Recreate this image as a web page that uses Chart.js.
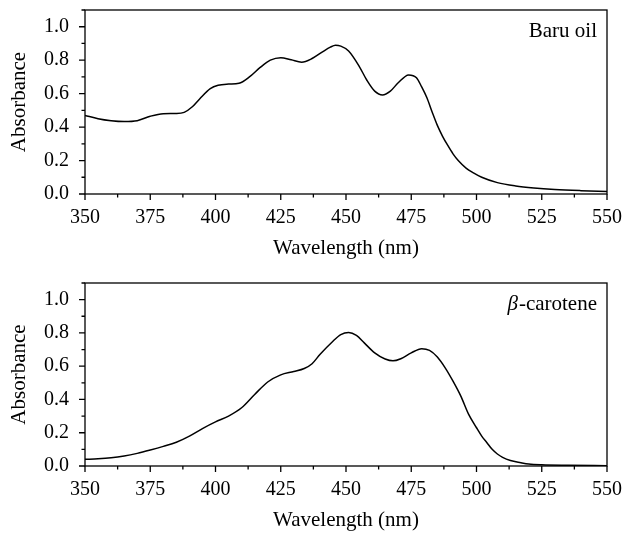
<!DOCTYPE html>
<html><head><meta charset="utf-8">
<script src="https://cdn.jsdelivr.net/npm/chart.js@4.4.1/dist/chart.umd.min.js"></script>
<style>html,body{margin:0;padding:0;background:#fff;} canvas{display:block;}</style>
</head><body>
<canvas id="topChart" width="623" height="270"></canvas>
<canvas id="bottomChart" width="623" height="263"></canvas>
<script>
// ---- data ----
const xTickValues = [350, 375, 400, 425, 450, 475, 500, 525, 550];
const yTickValues = [0.0, 0.2, 0.4, 0.6, 0.8, 1.0];
const xLabel = 'Wavelength (nm)';
const yLabel = 'Absorbance';
const topPanelLabel = 'Baru oil';
const bottomPanelLabel = ['β', '-carotene'];

const baruWavelength = [350,355,360,365,370,375,380,385,388,391,394,398,401,405,409,413,417,421,425,429,433,437,441,444,446,448,451,455,458,461,464,467,470,474,477,479,481,483,485,487,489,491,493,496,499,502,508,515,522,530,540,550];
const baruAbsorbance = [0.470,0.450,0.438,0.433,0.438,0.465,0.480,0.481,0.488,0.520,0.570,0.630,0.650,0.657,0.662,0.700,0.755,0.800,0.815,0.802,0.788,0.810,0.850,0.878,0.889,0.884,0.855,0.765,0.680,0.615,0.592,0.615,0.665,0.712,0.695,0.640,0.575,0.490,0.410,0.345,0.290,0.240,0.200,0.155,0.125,0.100,0.068,0.048,0.036,0.027,0.020,0.015];

const caroteneWavelength = [350,355,360,365,370,375,380,385,390,395,400,405,410,415,420,425,430,434,437,440,445,448,451,454,457,461,465,468,471,475,479,482,485,488,491,494,497,500,502,504,506,508,510,513,517,520,525,535,550];
const caroteneAbsorbance = [0.040,0.043,0.049,0.060,0.076,0.096,0.118,0.143,0.180,0.225,0.265,0.300,0.350,0.430,0.505,0.548,0.568,0.586,0.615,0.670,0.750,0.790,0.803,0.785,0.740,0.680,0.643,0.632,0.645,0.680,0.705,0.695,0.655,0.590,0.510,0.420,0.310,0.230,0.180,0.140,0.100,0.072,0.052,0.033,0.020,0.012,0.007,0.004,0.002];

// ---- styling ----
const FONT = '"Liberation Serif", "Times New Roman", serif';
const tickFont = {family: FONT, size: 20};
const titleFont = {family: FONT, size: 21};

function toPoints(xs, ys) { return xs.map((x, i) => ({x: x, y: ys[i]})); }

const framePlugin = {
  id: 'frame',
  afterDraw(chart) {
    const ctx = chart.ctx, a = chart.chartArea;
    const xs = chart.scales.x, ys = chart.scales.y;
    ctx.save();
    ctx.strokeStyle = '#000';
    ctx.lineWidth = 1.3;
    ctx.strokeRect(a.left, a.top, a.right - a.left, a.bottom - a.top);
    ctx.beginPath();
    for (let v = xs.min; v <= xs.max + 1e-6; v += 12.5) {
      const px = xs.getPixelForValue(v);
      const major = Math.abs((v - 350) % 25) < 1e-6;
      ctx.moveTo(px, a.bottom);
      ctx.lineTo(px, a.bottom + (major ? 6 : 3.5));
    }
    for (let i = 0; i <= 11; i++) {
      const v = i / 10;
      const py = ys.getPixelForValue(v);
      const major = i % 2 === 0;
      ctx.moveTo(a.left, py);
      ctx.lineTo(a.left - (major ? 6 : 3.5), py);
    }
    ctx.stroke();
    // panel label
    const lbl = chart.options.plugins.frame.label;
    ctx.fillStyle = '#000';
    ctx.textBaseline = 'middle';
    ctx.textAlign = 'left';
    const yText = a.top + 21;
    const rightX = a.right - 10;
    if (Array.isArray(lbl)) {
      ctx.font = 'italic 21px ' + FONT;
      const w1 = ctx.measureText(lbl[0]).width;
      ctx.font = '21px ' + FONT;
      const w2 = ctx.measureText(lbl[1]).width;
      const x0 = rightX - w1 - w2 - 1;
      ctx.font = 'italic 21px ' + FONT;
      ctx.fillText(lbl[0], x0, yText);
      ctx.font = '21px ' + FONT;
      ctx.fillText(lbl[1], x0 + w1 + 1, yText);
    } else {
      ctx.font = '21px ' + FONT;
      const w = ctx.measureText(lbl).width;
      ctx.fillText(lbl, rightX - w, yText);
    }
    ctx.restore();
  }
};

function makeChart(id, xs, ys, label, padTop, xAxisHeight, xTitlePadBottom) {
  return new Chart(document.getElementById(id), {
    type: 'line',
    data: {
      datasets: [{
        data: toPoints(xs, ys),
        borderColor: '#000',
        borderWidth: 1.5,
        pointRadius: 0,
        fill: false,
        cubicInterpolationMode: 'monotone'
      }]
    },
    plugins: [framePlugin],
    options: {
      responsive: false,
      animation: false,
      events: [],
      layout: {padding: {left: 0, right: 16, top: padTop, bottom: 0}},
      plugins: {
        legend: {display: false},
        tooltip: {enabled: false},
        frame: {label: label}
      },
      scales: {
        x: {
          type: 'linear', min: 350, max: 550,
          afterBuildTicks: s => { s.ticks = xTickValues.map(v => ({value: v})); },
          afterFit: s => { s.height = xAxisHeight; s.paddingLeft = 0; s.paddingRight = 0; },
          grid: {display: false, drawTicks: false, tickLength: 0},
          border: {display: false},
          ticks: {color: '#000', font: tickFont, padding: 12, maxRotation: 0, autoSkip: false,
                  callback: v => String(v)},
          title: {display: true, text: xLabel, color: '#000', font: titleFont,
                  padding: {top: 0, bottom: xTitlePadBottom}}
        },
        y: {
          type: 'linear', min: 0, max: 1.1,
          afterBuildTicks: s => { s.ticks = yTickValues.map(v => ({value: v})); },
          afterFit: s => { s.width = 85; s.paddingTop = 0; s.paddingBottom = 0; },
          grid: {display: false, drawTicks: false, tickLength: 0},
          border: {display: false},
          ticks: {color: '#000', font: tickFont, padding: 16,
                  callback: v => Number(v).toFixed(1)},
          title: {display: true, text: yLabel, color: '#000', font: titleFont,
                  padding: {top: 7, bottom: 0}}
        }
      }
    }
  });
}

makeChart('topChart', baruWavelength, baruAbsorbance, topPanelLabel, 10, 76, 9);
makeChart('bottomChart', caroteneWavelength, caroteneAbsorbance, bottomPanelLabel, 13, 67, 0);
</script>
</body></html>
